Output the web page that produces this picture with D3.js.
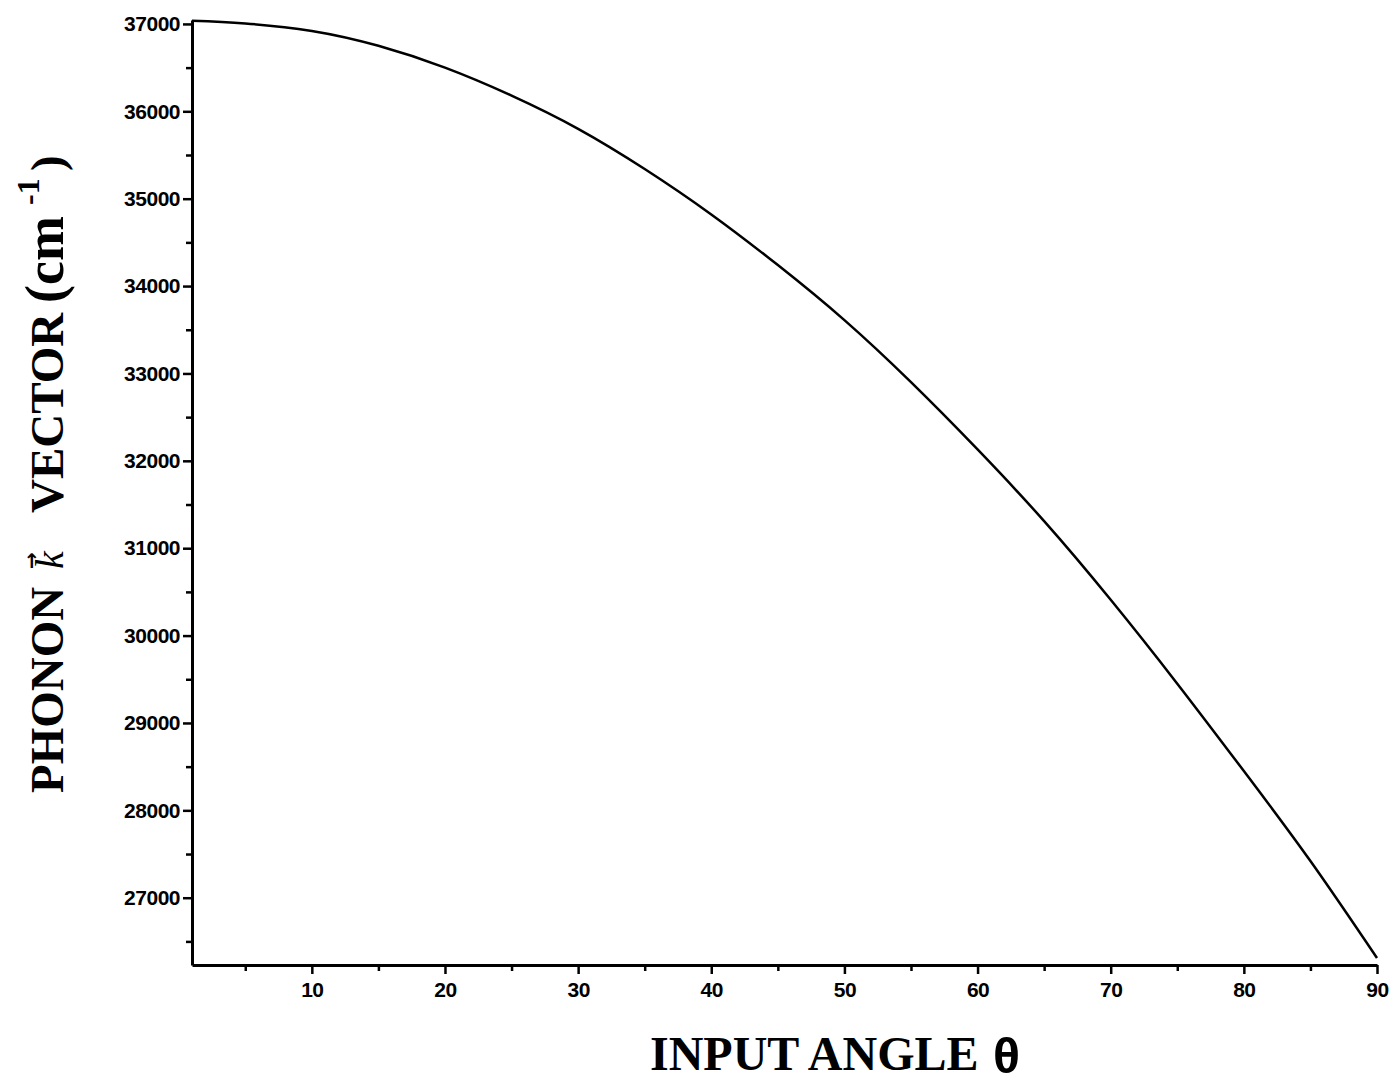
<!DOCTYPE html>
<html>
<head>
<meta charset="utf-8">
<title>Phonon k vector vs input angle</title>
<style>
    body { margin: 0; background: #fff; }
    .axis path, .axis line { stroke: #000; }
    .axis path { stroke-width: 3px; }
    .axis line { stroke-width: 2.5px; }
    .axis text {
        font-family: "Liberation Sans", Arial, sans-serif;
        font-weight: bold;
        font-size: 21px;
        letter-spacing: -0.5px;
        fill: #000;
    }
    .curve { fill: none; stroke: #000; stroke-width: 2.5px; }
    .title {
        font-family: "Liberation Serif", "Times New Roman", serif;
        font-weight: bold;
        fill: #000;
    }
</style>
</head>
<body>
<svg id="container" width="1393" height="1084">
    <g id="body"></g>
</svg>
<script src="https://cdn.jsdelivr.net/npm/d3@7"></script>
<script>
    // input angle (deg) and phonon k vector (cm^-1)
    const angles = [1, 5, 10, 15, 20, 25, 30, 35, 40, 45, 50, 55, 60, 65, 70, 75, 80, 85, 90]
    const kVector = [37035, 37005, 36920, 36750, 36500, 36180, 35800, 35340, 34820, 34240,
                     33610, 32900, 32130, 31310, 30410, 29450, 28450, 27420, 26310]

    const xTicks = [10, 20, 30, 40, 50, 60, 70, 80, 90]
    const xMinorTicks = [5, 15, 25, 35, 45, 55, 65, 75, 85]
    const yTicks = [27000, 28000, 29000, 30000, 31000, 32000, 33000, 34000, 35000, 36000, 37000]
    const yMinorTicks = [26500, 27500, 28500, 29500, 30500, 31500, 32500, 33500, 34500, 35500, 36500]

    const xDomain = [1, 90]
    const yDomain = [26230, 37045]

    let svg = d3.select("#container")
    let body = d3.select("#body")

    let plotLeft = 192, plotRight = 1377, plotTop = 20, plotBottom = 965

    let xScale = d3.scaleLinear().domain(xDomain).range([plotLeft, plotRight])
    let yScale = d3.scaleLinear().domain(yDomain).range([plotBottom, plotTop])

    // minor ticks first, then the main axes on top
    body.append("g")
        .attr("class", "axis")
        .attr("transform", `translate(0, ${plotBottom})`)
        .call(d3.axisBottom(xScale).tickValues(xMinorTicks).tickSize(6).tickFormat(""))
        .select(".domain").remove()

    body.append("g")
        .attr("class", "axis")
        .attr("transform", `translate(${plotLeft}, 0)`)
        .call(d3.axisLeft(yScale).tickValues(yMinorTicks).tickSize(6).tickFormat(""))
        .select(".domain").remove()

    body.append("g")
        .attr("class", "axis")
        .attr("transform", `translate(0, ${plotBottom})`)
        .call(d3.axisBottom(xScale).tickValues(xTicks).tickSize(9).tickSizeOuter(0)
            .tickPadding(8).tickFormat(d3.format("d")))

    body.append("g")
        .attr("class", "axis")
        .attr("transform", `translate(${plotLeft}, 0)`)
        .call(d3.axisLeft(yScale).tickValues(yTicks).tickSize(9).tickSizeOuter(0)
            .tickPadding(3).tickFormat(d3.format("d")))

    let line = d3.line()
        .x((d, i) => xScale(angles[i]))
        .y(d => yScale(d))
        .curve(d3.curveNatural)

    body.append("path")
        .datum(kVector)
        .attr("class", "curve")
        .attr("d", line)

    // x axis title
    svg.append("text")
        .attr("class", "title")
        .attr("x", 650)
        .attr("y", 1070)
        .style("font-size", "48px")
        .text("INPUT ANGLE")

    svg.append("text")
        .attr("class", "title")
        .attr("x", 993)
        .attr("y", 1073)
        .style("font-family", "'Liberation Sans', Arial, sans-serif")
        .style("font-size", "50px")
        .text("θ")

    // y axis title, written along the rotated frame (x runs upwards from y=793)
    let yTitleG = svg.append("g")
        .attr("transform", "translate(63, 793) rotate(-90)")

    let yTitle = yTitleG.append("text")
        .attr("class", "title")
        .style("font-size", "47px")

    yTitle.append("tspan").attr("x", 0).attr("y", 0).text("PHONON")
    yTitle.append("tspan").attr("x", 224).attr("y", 0)
        .style("font-style", "italic").style("font-weight", "normal").style("font-size", "40px")
        .text("k")
    yTitle.append("tspan").attr("x", 280).attr("y", 0).text("VECTOR")
    yTitle.append("tspan").attr("x", 490).attr("y", 0).style("font-size", "54px").text("(cm")
    yTitle.append("tspan").attr("x", 588).attr("y", -24).style("font-size", "32px").text("-1")
    yTitle.append("tspan").attr("x", 622).attr("y", 0).text(")")

    // vector arrow over the k
    yTitleG.append("text")
        .attr("x", 224)
        .attr("y", -25)
        .style("font-family", "'DejaVu Sans', sans-serif")
        .style("font-size", "20px")
        .style("font-weight", "bold")
        .text("\u2192")
</script>
</body>
</html>
